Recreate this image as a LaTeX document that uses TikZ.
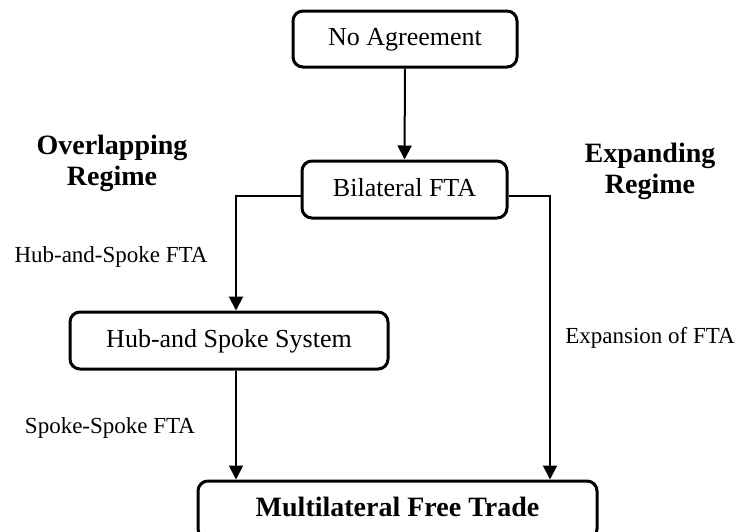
\documentclass[tikz,border=0pt]{standalone}
\usepackage{fontspec}
\setmainfont{Liberation Serif}
\usetikzlibrary{arrows.meta}

\tikzset{
  box/.style={draw, line width=1.5pt, rounded corners=5pt, minimum height=28.5pt,
    text height=0.66em, text depth=0pt, font=\fontsize{13}{15}\selectfont},
  lbl/.style={font=\fontsize{11.5}{14}\selectfont},
  regime/.style={align=center, font=\fontsize{14}{15.5}\selectfont\bfseries},
  flow/.style={line width=1pt, -{Triangle[width=7pt,length=7pt]}}
}

\begin{document}
\begin{tikzpicture}[x=0.5pt, y=-0.5pt]
  \path[use as bounding box, clip] (0,0) rectangle (744,531);
  \node[box, minimum width=112pt, minimum height=28pt] (agr) at (405,39) {No Agreement};
  \node[box, minimum width=102.5pt] (bil) at (404.5,189.5) {Bilateral FTA};
  \node[box, minimum width=159pt] (hub) at (229,340.5) {Hub-and Spoke System};
  \node[box, minimum width=199.5pt, minimum height=29pt,
    font=\fontsize{14}{16}\selectfont\bfseries] (mft) at (397.5,510) {Multilateral Free Trade};
  \coordinate (lx) at (236,196);
  \coordinate (rx) at (550,196);
  \draw[flow] (agr) -- (bil);
  \draw[flow] (bil.west |- lx) -- (lx) -- (lx |- hub.north);
  \draw[flow] (lx |- hub.south) -- (lx |- mft.north);
  \draw[flow] (bil.east |- rx) -- (rx) -- (rx |- mft.north);
  \node[regime] (over) at (112,163) {Overlapping\\Regime};
  \node[regime] (expd) at (650,171) {Expanding\\Regime};
  \node[lbl] (hsfta) at (111,257) {Hub-and-Spoke FTA};
  \node[lbl] (ssfta) at (110,428) {Spoke-Spoke FTA};
  \node[lbl] (exfta) at (650,338) {Expansion of FTA};
\end{tikzpicture}
\end{document}
